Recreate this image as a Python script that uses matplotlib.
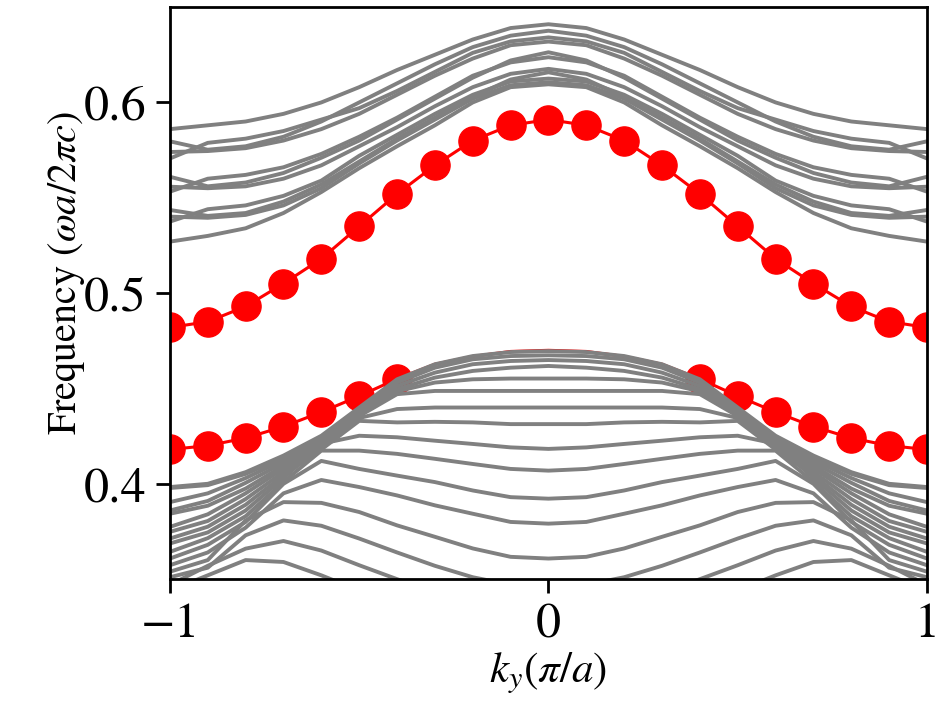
import numpy as np
import matplotlib
matplotlib.use("Agg")
import matplotlib.pyplot as plt

plt.rcParams['font.family'] = 'STIXGeneral'
plt.rcParams['mathtext.fontset'] = 'stix'

# k_y from -1 to 0 (band structure is symmetric, right half mirrored)
k_half = [-1.0, -0.9, -0.8, -0.7, -0.6, -0.5, -0.4, -0.3, -0.2, -0.1, 0.0]

# edge states (red)
edge_upper = [0.482, 0.485, 0.493, 0.505, 0.518, 0.535, 0.552, 0.567, 0.580, 0.588, 0.591]
edge_lower = [0.418, 0.420, 0.424, 0.430, 0.4376, 0.446, 0.455, 0.4627, 0.4668, 0.4694, 0.470]
edge_lower_marked = [True, True, True, True, True, True, True, False, False, False, False]

# bulk bands above the gap
upper_bands = [
    [0.586, 0.588, 0.590, 0.594, 0.600, 0.608, 0.617, 0.625, 0.633, 0.639, 0.641],
    [0.5796, 0.5752, 0.577, 0.582, 0.590, 0.600, 0.610, 0.620, 0.629, 0.635, 0.6376],
    [0.5706, 0.5788, 0.581, 0.585, 0.591, 0.597, 0.606, 0.616, 0.626, 0.632, 0.6341],
    [0.5740, 0.5745, 0.576, 0.580, 0.586, 0.594, 0.604, 0.614, 0.623, 0.630, 0.6319],
    [0.5610, 0.5560, 0.558, 0.563, 0.571, 0.580, 0.591, 0.602, 0.613, 0.622, 0.6263],
    [0.5532, 0.5600, 0.562, 0.566, 0.573, 0.582, 0.592, 0.603, 0.614, 0.621, 0.6237],
    [0.5558, 0.5550, 0.556, 0.560, 0.567, 0.577, 0.587, 0.598, 0.608, 0.615, 0.6176],
    [0.5436, 0.5405, 0.542, 0.548, 0.557, 0.569, 0.581, 0.592, 0.603, 0.612, 0.6158],
    [0.5375, 0.5440, 0.546, 0.551, 0.559, 0.572, 0.583, 0.594, 0.604, 0.611, 0.6125],
    [0.5401, 0.5395, 0.541, 0.546, 0.555, 0.568, 0.580, 0.591, 0.602, 0.609, 0.6106],
    [0.527, 0.530, 0.534, 0.542, 0.553, 0.5655, 0.577, 0.588, 0.600, 0.608, 0.6095],
]

# bulk bands below the gap
lower_bands = [
    [0.3983, 0.4000, 0.4061, 0.4148, 0.4252, 0.4400, 0.4548, 0.4627, 0.4670, 0.4691, 0.4696],
    [0.3978, 0.3993, 0.4052, 0.4138, 0.4242, 0.4390, 0.4531, 0.4609, 0.4653, 0.4670, 0.4674],
    [0.3904, 0.3950, 0.4030, 0.4125, 0.4232, 0.4380, 0.4513, 0.4583, 0.4627, 0.4644, 0.4649],
    [0.3860, 0.3910, 0.4005, 0.4110, 0.4222, 0.4370, 0.4496, 0.4557, 0.4592, 0.4609, 0.4618],
    [0.3843, 0.3885, 0.3975, 0.4095, 0.4212, 0.4362, 0.4485, 0.4531, 0.4548, 0.4552, 0.4552],
    [0.3774, 0.3840, 0.3950, 0.4080, 0.4202, 0.4355, 0.4470, 0.4487, 0.4487, 0.4487, 0.4487],
    [0.3748, 0.3805, 0.3920, 0.4062, 0.4192, 0.4345, 0.4392, 0.4400, 0.4400, 0.4400, 0.4400],
    [0.3713, 0.3775, 0.3890, 0.4045, 0.4180, 0.4330, 0.4322, 0.4325, 0.4322, 0.4313, 0.4313],
    [0.3687, 0.3745, 0.3860, 0.4030, 0.4210, 0.4252, 0.4244, 0.4226, 0.4209, 0.4191, 0.4183],
    [0.3643, 0.3715, 0.3830, 0.4010, 0.4174, 0.4174, 0.4157, 0.4131, 0.4104, 0.4078, 0.4069],
    [0.3608, 0.3680, 0.3800, 0.4000, 0.4120, 0.4078, 0.4043, 0.4009, 0.3965, 0.3930, 0.3922],
    [0.3573, 0.3640, 0.3770, 0.3950, 0.4020, 0.3983, 0.3939, 0.3887, 0.3843, 0.3800, 0.3791],
    [0.3539, 0.3600, 0.3808, 0.3904, 0.3900, 0.3852, 0.3782, 0.3722, 0.3661, 0.3617, 0.3608],
    [0.3510, 0.3560, 0.3730, 0.3808, 0.3780, 0.3713, 0.3640, 0.3570, 0.3510, 0.3470, 0.3460],
    [0.3470, 0.3570, 0.3660, 0.3700, 0.3650, 0.3573, 0.3500, 0.3430, 0.3380, 0.3350, 0.3340],
    [0.3440, 0.3520, 0.3600, 0.3590, 0.3520, 0.3440, 0.3370, 0.3310, 0.3260, 0.3230, 0.3220],
]


def full(half):
    # mirror the left half onto k > 0
    half = np.asarray(half)
    return np.concatenate([half, half[-2::-1]])


k = np.concatenate([np.asarray(k_half), -np.asarray(k_half)[-2::-1]])

fig = plt.figure(figsize=(9.44, 7.08), dpi=100)
ax = fig.add_axes([0.180, 0.182, 0.802, 0.808])

# edge states first, bulk drawn over them
ax.plot(k, full(edge_upper), color='red', lw=2.2, marker='o', ms=21, zorder=1)
mask = full(edge_lower_marked).astype(bool)
ax.plot(k, full(edge_lower), color='red', lw=2.2, zorder=1)
ax.plot(k[mask], full(edge_lower)[mask], 'o', color='red', ms=21, zorder=1)

for b in upper_bands + lower_bands:
    ax.plot(k, full(b), color='gray', lw=2.8, zorder=2)

ax.set_xlim(-1, 1)
ax.set_ylim(0.35, 0.65)
ax.set_xticks([-1, 0, 1])
ax.set_yticks([0.4, 0.5, 0.6])
ax.tick_params(labelsize=36, width=2, length=10, pad=7)
for s in ax.spines.values():
    s.set_linewidth(2)

ax.set_xlabel(r'$k_y(\pi/a)$', fontsize=31, labelpad=2)
ax.set_ylabel(r'Frequency $(\omega a/2\pi c)$', fontsize=29)
ax.yaxis.set_label_coords(-0.110, 0.535)

fig.savefig('out.png', dpi=100)
